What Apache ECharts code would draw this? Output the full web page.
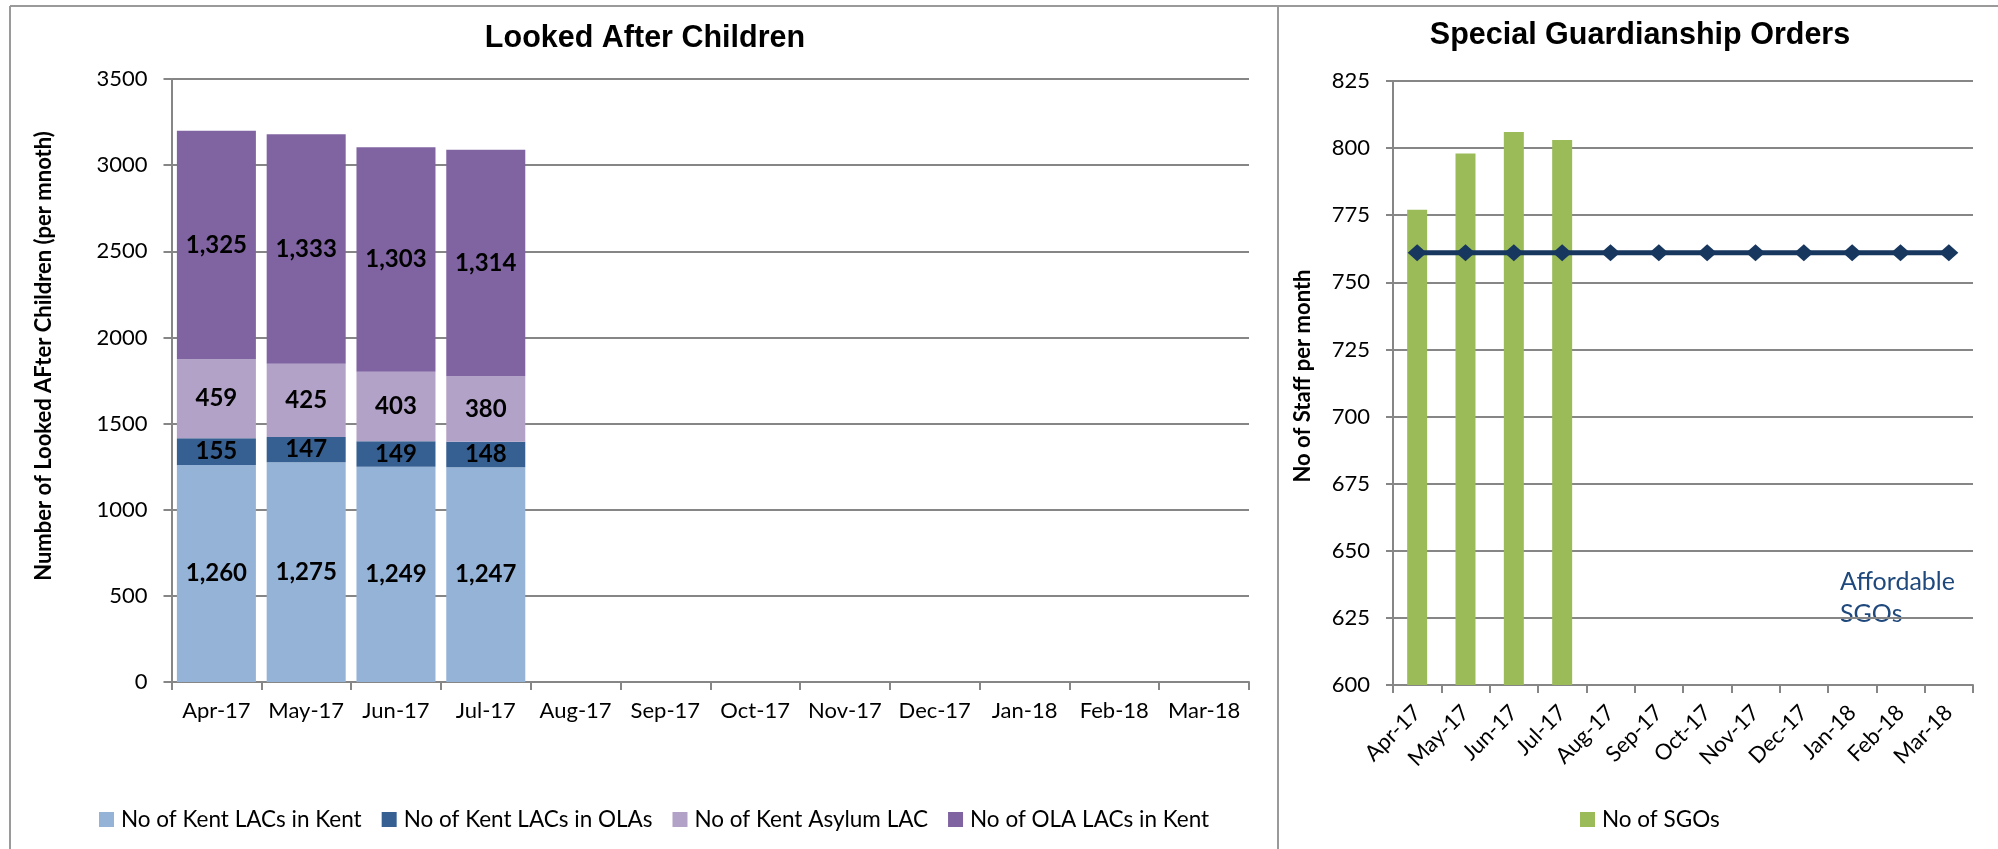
<!DOCTYPE html>
<html>
<head>
<meta charset="utf-8">
<script src="https://cdn.jsdelivr.net/npm/echarts@6/dist/echarts.min.js"></script>
<style>
html,body{margin:0;padding:0;background:#fff;}
#chart{width:1998px;height:849px;}
</style>
</head>
<body>
<div id="chart"></div>
<script>
var months = ['Apr-17','May-17','Jun-17','Jul-17','Aug-17','Sep-17','Oct-17','Nov-17','Dec-17','Jan-18','Feb-18','Mar-18'];
var kentInKent = [1260, 1275, 1249, 1247];
var kentInOLAs = [155, 147, 149, 148];
var kentAsylum = [459, 425, 403, 380];
var olaInKent = [1325, 1333, 1303, 1314];
var sgoCount = [777, 798, 806, 803];
var affordableSGOs = [761, 761, 761, 761, 761, 761, 761, 761, 761, 761, 761, 761];
var lacTicks = {min: 0, max: 3500, interval: 500};
var sgoTicks = {min: 600, max: 825, interval: 25};

var FONT = 'Lato';
var GRID_C = '#868686';

function fmt(p){ return p.value == null ? '' : Number(p.value).toLocaleString('en-US'); }

function barSeries(name, data, color){
  return {
    name: name, type: 'bar', stack: 'lac', xAxisIndex: 0, yAxisIndex: 0,
    data: data, barCategoryGap: '12%',
    itemStyle: {color: color},
    label: {show: true, position: 'inside', formatter: fmt, color: '#000',
      fontFamily: FONT, fontWeight: 'bold', fontSize: 24}
  };
}

var chart = echarts.init(document.getElementById('chart'));
var axisLabelStyle = {color: '#000', fontFamily: FONT, fontSize: 22};
function plain(v){ return String(v); }

chart.setOption({
  animation: false,
  backgroundColor: '#fff',
  grid: [
    {left: 171.5, right: 1998 - 1249, top: 79, bottom: 849 - 682},
    {left: 1393, right: 1998 - 1973, top: 81, bottom: 849 - 685}
  ],
  xAxis: [
    {type: 'category', gridIndex: 0, data: months,
      axisLine: {lineStyle: {color: GRID_C, width: 2}},
      axisTick: {show: true, length: 8, lineStyle: {color: GRID_C, width: 2}},
      axisLabel: Object.assign({margin: 18, interval: 0}, axisLabelStyle)},
    {type: 'category', gridIndex: 1, data: months,
      axisLine: {lineStyle: {color: GRID_C, width: 2}},
      axisTick: {show: true, length: 8, lineStyle: {color: GRID_C, width: 2}},
      axisLabel: Object.assign({margin: 24, interval: 0, rotate: 45}, axisLabelStyle)}
  ],
  yAxis: [
    {type: 'value', gridIndex: 0, min: lacTicks.min, max: lacTicks.max, interval: lacTicks.interval,
      axisLine: {show: true, lineStyle: {color: GRID_C, width: 2}},
      axisTick: {show: true, length: 8, lineStyle: {color: GRID_C, width: 2}},
      splitLine: {lineStyle: {color: GRID_C, width: 2}},
      axisLabel: Object.assign({margin: 24, formatter: plain}, axisLabelStyle)},
    {type: 'value', gridIndex: 1, min: sgoTicks.min, max: sgoTicks.max, interval: sgoTicks.interval,
      axisLine: {show: true, lineStyle: {color: GRID_C, width: 2}},
      axisTick: {show: true, length: 7, lineStyle: {color: GRID_C, width: 2}},
      splitLine: {lineStyle: {color: GRID_C, width: 2}},
      axisLabel: Object.assign({margin: 23, formatter: plain}, axisLabelStyle)}
  ],
  legend: [
    {left: 94, top: 803, itemWidth: 15, itemHeight: 15, itemGap: 20, icon: 'rect',
      textStyle: {color: '#000', fontFamily: FONT, fontSize: 22.5, padding: [0,0,0,2]},
      data: ['No of Kent LACs in Kent','No of Kent LACs in OLAs','No of Kent Asylum LAC','No of OLA LACs in Kent']},
    {left: 1575, top: 803, itemWidth: 15, itemHeight: 15, icon: 'rect',
      textStyle: {color: '#000', fontFamily: FONT, fontSize: 22.5, padding: [0,0,0,2]},
      data: ['No of SGOs']}
  ],
  series: [
    barSeries('No of Kent LACs in Kent', kentInKent, '#95B3D7'),
    barSeries('No of Kent LACs in OLAs', kentInOLAs, '#376092'),
    barSeries('No of Kent Asylum LAC', kentAsylum, '#B3A2C7'),
    barSeries('No of OLA LACs in Kent', olaInKent, '#8064A2'),
    {name: 'No of SGOs', type: 'bar', xAxisIndex: 1, yAxisIndex: 1, data: sgoCount,
      barWidth: 20, itemStyle: {color: '#9BBB59'}},
    {name: 'Affordable SGOs', type: 'line', xAxisIndex: 1, yAxisIndex: 1, data: affordableSGOs,
      symbol: 'diamond', symbolSize: [19, 17], z: 5,
      lineStyle: {color: '#17375E', width: 5},
      itemStyle: {color: '#17375E'}}
  ],
  graphic: [
    {type: 'line', shape: {x1: 10, y1: 6, x2: 1998, y2: 6}, style: {stroke: '#9a9a9a', lineWidth: 2}},
    {type: 'line', shape: {x1: 10, y1: 6, x2: 10, y2: 849}, style: {stroke: '#9a9a9a', lineWidth: 2}},
    {type: 'line', shape: {x1: 1278, y1: 6, x2: 1278, y2: 849}, style: {stroke: '#9a9a9a', lineWidth: 2}},
    {type: 'text', x: 645, y: 39, style: {text: 'Looked After Children', fill: '#000',
      font: 'bold 30.5px "Liberation Sans", Arial, sans-serif', align: 'center', verticalAlign: 'middle'}},
    {type: 'text', x: 1640, y: 36, style: {text: 'Special Guardianship Orders', fill: '#000',
      font: 'bold 30.5px "Liberation Sans", Arial, sans-serif', align: 'center', verticalAlign: 'middle'}},
    {type: 'text', x: 44, y: 356, rotation: Math.PI / 2, style: {text: 'Number of Looked AFter Children (per mnoth)', fill: '#000',
      font: 'bold 22px Lato, sans-serif', align: 'center', verticalAlign: 'middle'}},
    {type: 'text', x: 1303, y: 376, rotation: Math.PI / 2, style: {text: 'No of Staff per month', fill: '#000',
      font: 'bold 22px Lato, sans-serif', align: 'center', verticalAlign: 'middle'}},
    {type: 'text', x: 1840, y: 598, style: {text: 'Affordable\nSGOs', fill: '#1F497D',
      font: '25px Lato, sans-serif', lineHeight: 32, align: 'left', verticalAlign: 'middle'}}
  ]
});
</script>
</body>
</html>
